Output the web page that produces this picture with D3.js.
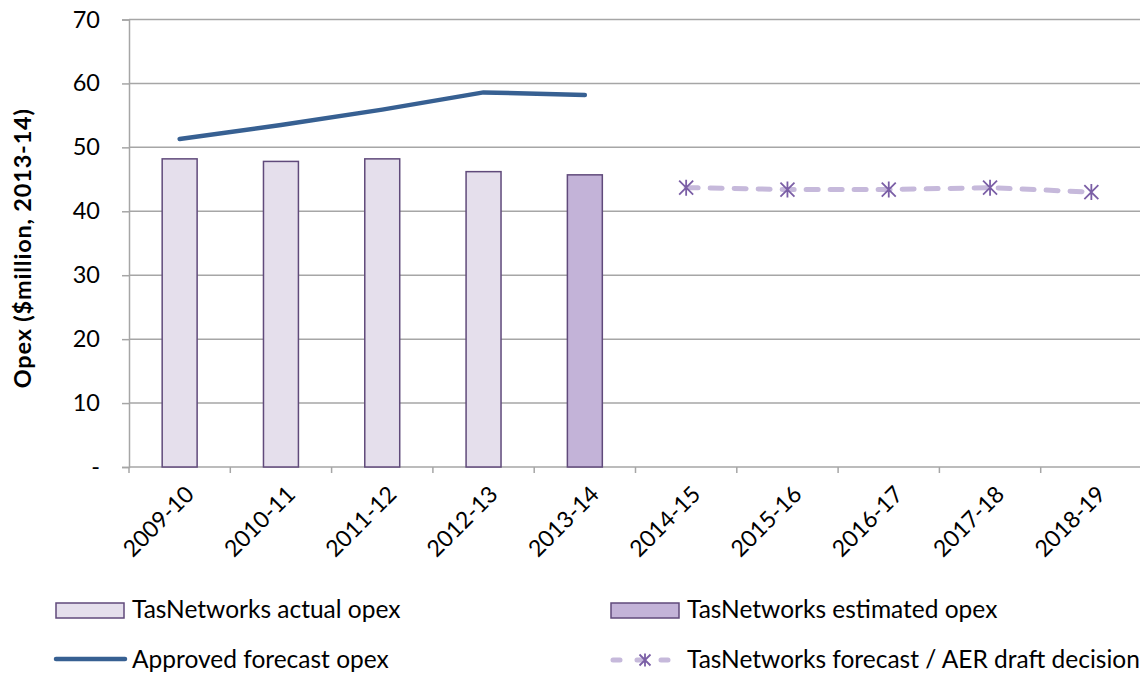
<!DOCTYPE html>
<html>
<head>
<meta charset="utf-8">
<script src="https://cdn.jsdelivr.net/npm/d3@7"></script>
<style>
  html, body { margin: 0; padding: 0; background: #fff; }
  svg { display: block; font-family: Lato, "Open Sans", sans-serif; }
</style>
</head>
<body>
<svg id="chart" width="1140" height="673"></svg>
<script>
// Financial years on the category axis
const categories = ["2009-10", "2010-11", "2011-12", "2012-13", "2013-14",
                    "2014-15", "2015-16", "2016-17", "2017-18", "2018-19"];
// TasNetworks actual opex ($million, 2013-14)
const actualYears = ["2009-10", "2010-11", "2011-12", "2012-13"];
const actualOpex = [48.2, 47.8, 48.2, 46.2];
// TasNetworks estimated opex
const estimatedYears = ["2013-14"];
const estimatedOpex = [45.7];
// Approved forecast opex
const approvedYears = ["2009-10", "2010-11", "2011-12", "2012-13", "2013-14"];
const approvedOpex = [51.3, 53.5, 55.9, 58.6, 58.2];
// TasNetworks forecast / AER draft decision
const forecastYears = ["2014-15", "2015-16", "2016-17", "2017-18", "2018-19"];
const forecastOpex = [43.7, 43.4, 43.4, 43.7, 43.0];
// Value axis ticks
const yTicks = [0, 10, 20, 30, 40, 50, 60, 70];

const svg = d3.select("#chart");
const plotLeft = 129, plotRight = 1142, plotTop = 19.5, plotBottom = 467;

const x = d3.scaleBand().domain(categories).range([plotLeft, plotRight])
  .paddingInner(0.655).paddingOuter(0.3275);
const cx = d => x(d) + x.bandwidth() / 2;
const y = d3.scaleLinear().domain([0, 70]).range([plotBottom, plotTop]);

const gridColor = "#a6a6a6";

// Horizontal gridlines
svg.append("g").selectAll("line").data(yTicks.filter(t => t > 0)).join("line")
  .attr("x1", plotLeft).attr("x2", 1140)
  .attr("y1", d => y(d)).attr("y2", d => y(d))
  .attr("stroke", gridColor).attr("stroke-width", 1.5);

// Value axis
const yAxis = d3.axisLeft(y).tickValues(yTicks).tickSize(7).tickPadding(22)
  .tickFormat(d => d === 0 ? "-" : d3.format("d")(d));
const gy = svg.append("g").attr("transform", `translate(${plotLeft},0)`).call(yAxis);
gy.select(".domain").attr("stroke", gridColor).attr("stroke-width", 1.5);
gy.selectAll(".tick line").attr("stroke", gridColor).attr("stroke-width", 1.5);
gy.selectAll(".tick text").attr("font-size", 23.5).attr("fill", "#000")
  .attr("font-family", "Lato, sans-serif");

// Category axis line with boundary ticks
svg.append("line").attr("x1", plotLeft).attr("x2", 1140)
  .attr("y1", plotBottom).attr("y2", plotBottom)
  .attr("stroke", gridColor).attr("stroke-width", 1.5);
const boundaries = d3.range(categories.length + 1).map(i => plotLeft + i * x.step());
svg.append("g").selectAll("line").data(boundaries.filter(b => b <= 1140)).join("line")
  .attr("x1", d => d).attr("x2", d => d)
  .attr("y1", plotBottom).attr("y2", plotBottom + 6)
  .attr("stroke", gridColor).attr("stroke-width", 1.5);

// Rotated category labels
svg.append("g").selectAll("text").data(categories).join("text")
  .attr("transform", d => `translate(${cx(d) + 10},${plotBottom + 23}) rotate(-45)`)
  .attr("text-anchor", "end")
  .attr("dy", "0.35em")
  .attr("font-size", 23)
  .attr("fill", "#000")
  .text(d => d);

// Y axis title
svg.append("text")
  .attr("transform", `translate(31,${(plotTop + plotBottom) / 2 + 5}) rotate(-90)`)
  .attr("text-anchor", "middle")
  .attr("font-size", 23.5).attr("font-weight", "bold").attr("fill", "#000")
  .attr("letter-spacing", 0.8)
  .text("Opex ($million, 2013-14)");

const barStroke = "#604a7b";
const actualFill = "#e5dfec";
const estFill = "#c3b3d8";

// Actual opex bars
svg.append("g").selectAll("rect").data(actualYears.map((c, i) => ({c, v: actualOpex[i]}))).join("rect")
  .attr("x", d => x(d.c)).attr("width", x.bandwidth())
  .attr("y", d => y(d.v)).attr("height", d => y(0) - y(d.v))
  .attr("fill", actualFill).attr("stroke", barStroke).attr("stroke-width", 1.5);

// Estimated opex bar
svg.append("g").selectAll("rect").data(estimatedYears.map((c, i) => ({c, v: estimatedOpex[i]}))).join("rect")
  .attr("x", d => x(d.c)).attr("width", x.bandwidth())
  .attr("y", d => y(d.v)).attr("height", d => y(0) - y(d.v))
  .attr("fill", estFill).attr("stroke", barStroke).attr("stroke-width", 1.5);

// Approved forecast line
const approvedData = approvedYears.map((c, i) => ({c, v: approvedOpex[i]}));
const line = d3.line().x(d => cx(d.c)).y(d => y(d.v));
svg.append("path").datum(approvedData)
  .attr("d", line).attr("fill", "none")
  .attr("stroke", "#376092").attr("stroke-width", 4.5)
  .attr("stroke-linecap", "round").attr("stroke-linejoin", "round");

// Forecast dashed line with star markers
const forecastData = forecastYears.map((c, i) => ({c, v: forecastOpex[i]}));
svg.append("path").datum(forecastData)
  .attr("d", line).attr("fill", "none")
  .attr("stroke", "#c6b9db").attr("stroke-width", 5)
  .attr("stroke-dasharray", "12,12").attr("stroke-linecap", "round");

const markerColor = "#7b5fa6";
function star(g, px, py, s) {
  const h = s / 2;
  g.append("path")
    .attr("d", `M${px - h},${py - h}L${px + h},${py + h}M${px + h},${py - h}L${px - h},${py + h}M${px},${py - h - 1}L${px},${py + h + 1}`)
    .attr("stroke", markerColor).attr("stroke-width", 1.8).attr("fill", "none");
}
const markers = svg.append("g");
forecastData.forEach(d => star(markers, cx(d.c), y(d.v), 14));

// Legend
const legend = svg.append("g").attr("font-size", 24.5).attr("fill", "#000");
legend.append("rect").attr("x", 56).attr("y", 603).attr("width", 68).attr("height", 15)
  .attr("fill", actualFill).attr("stroke", barStroke).attr("stroke-width", 1.5);
legend.append("text").attr("x", 132).attr("y", 618).text("TasNetworks actual opex");

legend.append("rect").attr("x", 611).attr("y", 603).attr("width", 68).attr("height", 15)
  .attr("fill", estFill).attr("stroke", barStroke).attr("stroke-width", 1.5);
legend.append("text").attr("x", 687).attr("y", 618).text("TasNetworks estimated opex");

legend.append("line").attr("x1", 56).attr("x2", 125).attr("y1", 659).attr("y2", 659)
  .attr("stroke", "#376092").attr("stroke-width", 4.5).attr("stroke-linecap", "round");
legend.append("text").attr("x", 132).attr("y", 668).text("Approved forecast opex");

legend.append("line").attr("x1", 613).attr("x2", 677).attr("y1", 660).attr("y2", 660)
  .attr("stroke", "#c6b9db").attr("stroke-width", 5)
  .attr("stroke-dasharray", "7,17").attr("stroke-linecap", "round");
star(legend, 645, 660, 11);
legend.append("text").attr("x", 687).attr("y", 668).text("TasNetworks forecast / AER draft decision");
</script>
</body>
</html>
